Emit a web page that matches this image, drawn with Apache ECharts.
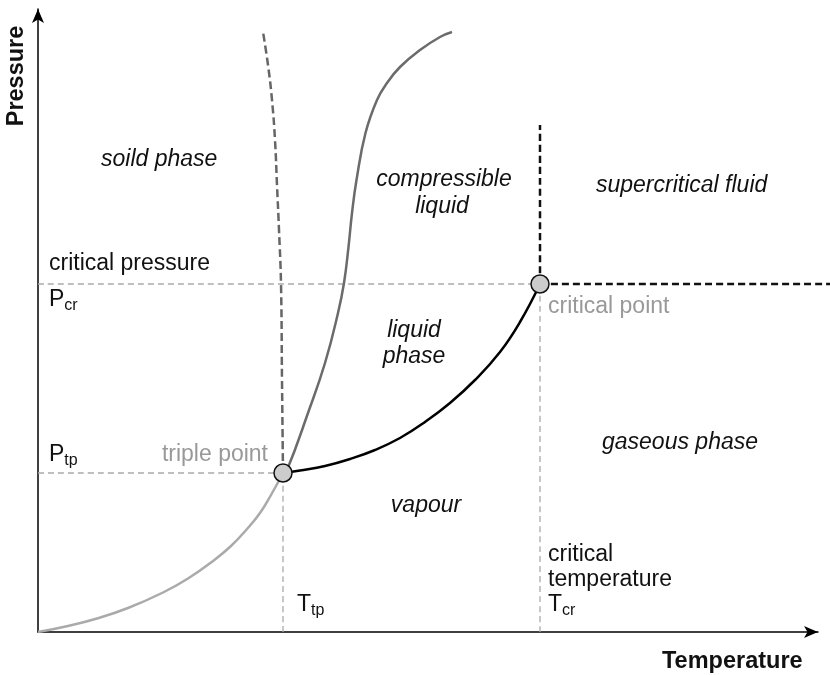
<!DOCTYPE html>
<html><head><meta charset="utf-8">
<script src="https://cdn.jsdelivr.net/npm/echarts@6/dist/echarts.min.js"></script>
<style>html,body{margin:0;padding:0;background:#fff}#c{width:830px;height:675px}</style>
</head><body><div id="c"></div>
<script>
// Phase diagram values (Temperature, Pressure) in arbitrary units
const triplePoint = [245, 159];
const criticalPoint = [502, 348];
const sublimationCurve = [[0,0],[30,6],[59,13.5],[90,24],[125,39.5],[150,53.5],[175,71],[193,86],[209,103],[222,119],[233,137],[245,159]];
const vaporizationCurve = [[245,159],[262,161.5],[287,166],[312,173],[337,182],[362,194],[387,210],[412,229],[437,252],[462,280],[482,310],[502,348]];
const meltingCurve = [[245,159],[244,252],[243,348],[241,402],[239,447],[237,492],[234,532],[230,567],[225,600]];
const compressibleCurve = [[245,159],[249,162],[270,219],[287,269],[300,319],[306,349],[310.5,385],[314,419],[318.5,452],[327.5,499],[339,532],[349,549],[362,565],[382,582],[402,595],[414,600]];
const supercriticalTop = 507;
const supercriticalRight = 792;
const axisMaxT = 780;
const axisMaxP = 623;

const FONT = '"Liberation Sans", Arial, Helvetica, sans-serif';
const FS = 23;

const chart = echarts.init(document.getElementById('c'));

function line(data, color, width, type, z, idx) {
  return {type:'line', data, smooth:0.45, symbol:'none', clip:false, silent:true, z:z||2,
    xAxisIndex:idx||0, yAxisIndex:idx||0,
    lineStyle:{color, width, type: type||'solid', cap:'butt'}};
}

function txt(x, y, text, opts) {
  opts = opts || {};
  const align = opts.align || 'left';
  return {type:'text', x, y, silent:true, z:100, rotation: opts.rotation || 0,
    style:{text, fill: opts.fill||'#111',
      font: (opts.style||'normal') + ' ' + (opts.weight||'normal') + ' ' + (opts.size||FS) + 'px ' + FONT,
      textAlign: align, align: align, textVerticalAlign:'middle', verticalAlign:'middle', rich: opts.rich}};
}

const subRich = {
  a:{fontSize:FS, fontFamily:FONT, fill:'#111', color:'#111', verticalAlign:'bottom'},
  b:{fontSize:16, fontFamily:FONT, fill:'#111', color:'#111', verticalAlign:'bottom', padding:[0,0,-2,0]}
};

const hiddenAxis = (max) => ({type:'value', min:0, max, show:false});

const option = {
  animation:false,
  backgroundColor:'#fff',
  grid:[
    {left:38, right:830-38-axisMaxT, top:675-43-axisMaxP, bottom:43, containLabel:false},
    {left:38, right:0, top:675-43-axisMaxP, bottom:43, containLabel:false}
  ],
  xAxis:[
    {type:'value', min:0, max:axisMaxT, axisLine:{show:true, onZero:false, symbol:['none','arrow'], symbolSize:[9,14], lineStyle:{color:'#000', width:1.5}},
      axisTick:{show:false}, axisLabel:{show:false}, splitLine:{show:false}},
    Object.assign(hiddenAxis(supercriticalRight), {gridIndex:1})
  ],
  yAxis:[
    {type:'value', min:0, max:axisMaxP, axisLine:{show:true, onZero:false, symbol:['none','arrow'], symbolSize:[9,14], lineStyle:{color:'#000', width:1.5}},
      axisTick:{show:false}, axisLabel:{show:false}, splitLine:{show:false}},
    Object.assign(hiddenAxis(axisMaxP), {gridIndex:1})
  ],
  series:[
    line([[0, triplePoint[1]], triplePoint], '#aaa', 1.3, [6,4], 1),
    line([[triplePoint[0], 0], triplePoint], '#aaa', 1.3, [6,4], 1),
    line([[0, criticalPoint[1]], criticalPoint], '#aaa', 1.3, [6,4], 1),
    line([[criticalPoint[0], 0], criticalPoint], '#aaa', 1.3, [6,4], 1),
    line([criticalPoint, [supercriticalRight, criticalPoint[1]]], '#111', 2.5, [7,4], 2, 1),
    line([criticalPoint, [criticalPoint[0], supercriticalTop]], '#111', 2.5, [7,4], 2),
    line(sublimationCurve, '#aaa', 2.5),
    line(meltingCurve, '#666', 2.5, [8,4]),
    line(compressibleCurve, '#6b6b6b', 2.5),
    line(vaporizationCurve, '#000', 2.5, 'solid', 3),
    {type:'scatter', data:[triplePoint, criticalPoint], symbol:'circle', symbolSize:18, silent:true, z:20, zlevel:1,
      itemStyle:{color:'#cccccc', opacity:1, borderColor:'#111', borderWidth:1.5}}
  ],
  graphic:[
    txt(17, 76, 'Pressure', {weight:'bold', size:23.5, align:'center', rotation:Math.PI/2}),
    txt(662, 662, 'Temperature', {weight:'bold', size:23.5}),
    txt(101, 160, 'soild phase', {style:'italic'}),
    txt(444, 180, 'compressible', {style:'italic', align:'center'}),
    txt(442, 207, 'liquid', {style:'italic', align:'center'}),
    txt(596, 186, 'supercritical fluid', {style:'italic'}),
    txt(49, 264, 'critical pressure'),
    txt(49, 300, '{a|P}{b|cr}', {rich:subRich}),
    txt(548, 307, 'critical point', {fill:'#999'}),
    txt(414, 331, 'liquid', {style:'italic', align:'center'}),
    txt(414, 357, 'phase', {style:'italic', align:'center'}),
    txt(268, 455, 'triple point', {fill:'#999', align:'right'}),
    txt(49, 455, '{a|P}{b|tp}', {rich:subRich}),
    txt(680, 443, 'gaseous phase', {style:'italic', align:'center'}),
    txt(426, 506, 'vapour', {style:'italic', align:'center'}),
    txt(548, 555, 'critical'),
    txt(548, 580, 'temperature'),
    txt(548, 605, '{a|T}{b|cr}', {rich:subRich}),
    txt(297, 605, '{a|T}{b|tp}', {rich:subRich})
  ]
};
chart.setOption(option);
</script></body></html>
